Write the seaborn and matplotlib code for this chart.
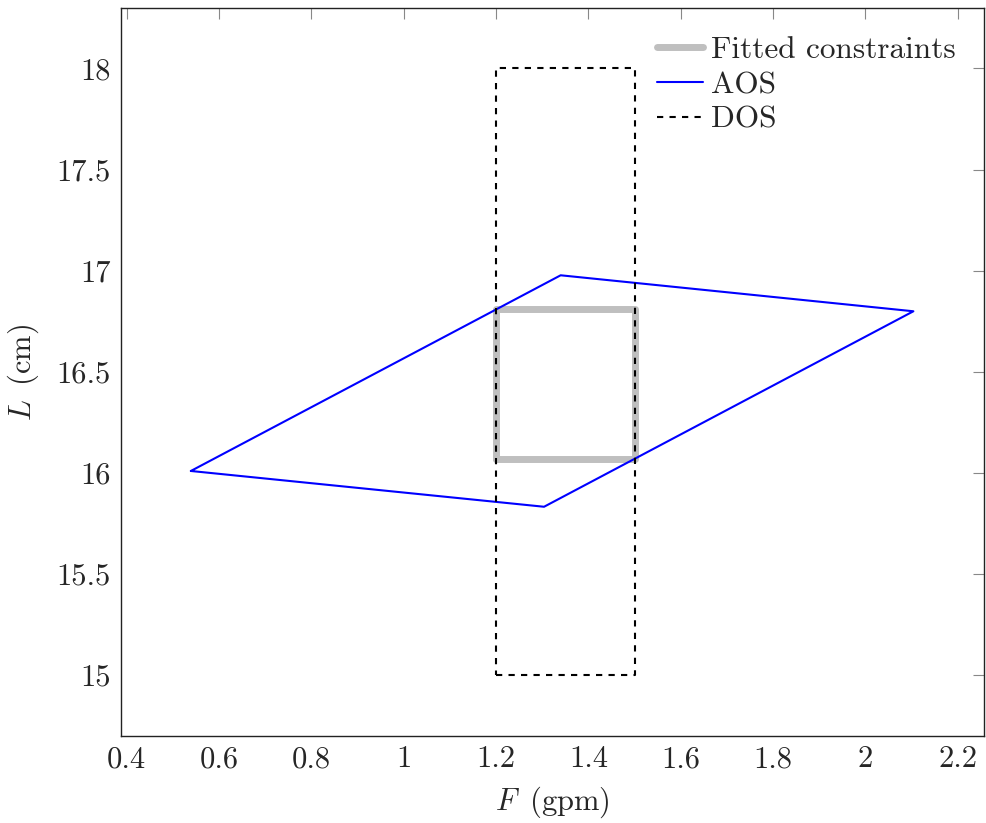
import matplotlib
matplotlib.use("Agg")
import matplotlib.pyplot as plt
import seaborn as sns
import pandas as pd

# Polygon vertices (closed loops)
fitted_F = [1.2, 1.5, 1.5, 1.2, 1.2]
fitted_L = [16.068, 16.068, 16.81, 16.81, 16.068]

aos_F = [0.539, 1.340, 2.104, 1.304, 0.539]
aos_L = [16.009, 16.977, 16.799, 15.832, 16.009]

dos_F = [1.2, 1.5, 1.5, 1.2, 1.2]
dos_L = [15.0, 15.0, 18.0, 18.0, 15.0]

x_ticks = [0.4, 0.6, 0.8, 1.0, 1.2, 1.4, 1.6, 1.8, 2.0, 2.2]
x_tick_labels = ["0.4", "0.6", "0.8", "1", "1.2", "1.4", "1.6", "1.8", "2", "2.2"]
y_ticks = [15, 15.5, 16, 16.5, 17, 17.5, 18]
y_tick_labels = ["15", "15.5", "16", "16.5", "17", "17.5", "18"]

sns.set_style("white")
plt.rcParams["font.family"] = ["cmr10", "DejaVu Serif"]
plt.rcParams["mathtext.fontset"] = "cm"
plt.rcParams["axes.formatter.use_mathtext"] = True

fig, ax = plt.subplots(figsize=(9.86, 8.23), dpi=100)
fig.subplots_adjust(left=0.1224, right=0.998, top=0.990, bottom=0.1057)

def loop(F, L):
    return pd.DataFrame({"F": F, "L": L})

sns.lineplot(data=loop(fitted_F, fitted_L), x="F", y="L", sort=False, estimator=None,
             ax=ax, color="#bfbfbf", linewidth=5, label="Fitted constraints")
sns.lineplot(data=loop(aos_F, aos_L), x="F", y="L", sort=False, estimator=None,
             ax=ax, color="#0000ff", linewidth=1.5, label="AOS")
sns.lineplot(data=loop(dos_F, dos_L), x="F", y="L", sort=False, estimator=None,
             ax=ax, color="black", linewidth=1.5, linestyle=(0, (3, 3)), label="DOS")

ax.set_xlim(0.387, 2.257)
ax.set_ylim(14.698, 18.298)
ax.set_xticks(x_ticks)
ax.set_xticklabels(x_tick_labels)
ax.set_yticks(y_ticks)
ax.set_yticklabels(y_tick_labels)

ax.tick_params(axis="both", which="both", direction="in", length=8, width=0.8,
               color="#888888", labelsize=22, top=True, right=True, pad=7)
for s in ax.spines.values():
    s.set_color("#222222")
    s.set_linewidth(1.0)

ax.set_xlabel("$F\\,$ (gpm)", fontsize=22, labelpad=8)
ax.set_ylabel("$L\\,$ (cm)", fontsize=22, labelpad=11)

ax.legend(loc="upper right", frameon=False, fontsize=22.5, handlelength=1.47,
          handletextpad=0.26, labelspacing=0.22, borderaxespad=0.65,
          borderpad=0.25)

fig.savefig("out.png", dpi=100)
